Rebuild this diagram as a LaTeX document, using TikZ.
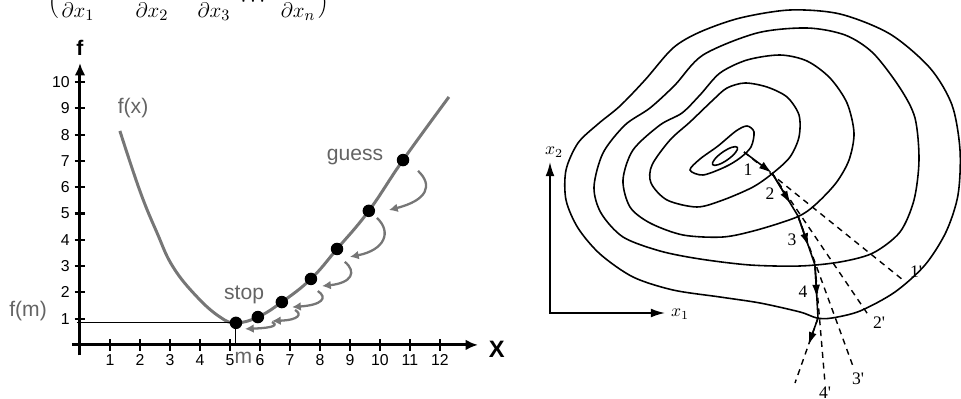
\documentclass[tikz,border=0pt]{standalone}
\usepackage{fontspec}
\newfontfamily\arialfont{Liberation Sans}
\newfontfamily\timesfont{Liberation Serif}
\usetikzlibrary{arrows.meta,calc}

\definecolor{curvegray}{RGB}{118,118,118}
\definecolor{labelgray}{RGB}{100,100,100}

\tikzset{
  gdot/.style={circle,fill=black,inner sep=0pt,minimum size=0.25cm},
  hook/.style={curvegray,line width=1.3pt,-{Latex[length=5pt,width=5pt]}},
  ticklab/.style={font=\arialfont\fontsize{9}{10}\selectfont,inner sep=0pt},
  graylab/.style={labelgray,font=\arialfont\fontsize{12}{14}\selectfont,inner sep=0pt},
  contour/.style={line width=0.9pt},
  search/.style={line width=0.8pt,dash pattern=on 3.4pt off 2.8pt},
  descent/.style={line width=0.9pt,-{Latex[length=7.5pt,width=4.5pt]}},
  steplab/.style={font=\timesfont\fontsize{10}{12}\selectfont,inner sep=0pt},
}

\begin{document}
\begin{tikzpicture}[x=0.02cm,y=-0.02cm]
\useasboundingbox (0,0) rectangle (961,399);
\clip (0,0) rectangle (961,399);

% gradient line, cut at the top
\begin{scope}[font=\fontsize{13}{15}\selectfont]
\node[anchor=south,inner sep=0pt] (lpar) at (54,19) {$\Big($};
\node[anchor=base,inner sep=0pt] (dx1) at (78,17) {$\partial x_1$};
\node[anchor=base,inner sep=0pt] (dx2) at (152,17) {$\partial x_2$};
\node[anchor=base,inner sep=0pt] (dx3) at (214,17) {$\partial x_3$};
\node[anchor=base,inner sep=0pt] (dots) at (253,7) {$\cdots$};
\node[anchor=base,inner sep=0pt] (dxn) at (298,17) {$\partial x_n$};
\node[anchor=south,inner sep=0pt] (rpar) at (324,19) {$\Big)$};
\end{scope}

% left: f(x) with the guesses
\begin{scope}[shift={(1.6cm,-6.9cm)},x=0.6cm,y=0.526cm]

\draw[line width=1.7pt,-{Latex[length=7pt,width=6pt]}] (-0.27,0) -- (13.27,0);
\draw[line width=1.7pt,-{Latex[length=7pt,width=6pt]}] (0,-0.4) -- (0,10.72);

\foreach \i in {1,...,12} {
  \draw[line width=1.2pt] (\i,-0.22) -- (\i,0.22);
  \node[ticklab,anchor=north] (xt\i) at (\i,-0.36) {\i};
}
\foreach \i in {1,...,10} {
  \draw[line width=1.2pt] (-0.18,\i) -- (0.18,\i);
  \node[ticklab,anchor=east] (yt\i) at (-0.33,\i) {\i};
}

\node[font=\arialfont\bfseries\fontsize{12}{14}\selectfont] (flab) at (0,11.3) {f};
\node[font=\arialfont\bfseries\fontsize{13.5}{15}\selectfont] (xlab) at (13.9,-0.15) {X};

\draw[line width=1.7pt,curvegray] plot[smooth,tension=0.7] coordinates
  {(1.33,8.14) (2.0,5.85) (2.57,4.26) (3.1,2.97) (3.9,1.83) (4.67,1.06)
   (5.2,0.84) (5.93,1.06) (6.73,1.63) (7.7,2.51) (8.57,3.65) (9.63,5.1) (10.77,7.03) (12.3,9.43)};

\draw[line width=0.6pt] (-0.1,0.84) -- (5.2,0.84);
\draw[line width=0.6pt] (5.2,0.84) -- (5.2,0);

\node[gdot] (g0) at (5.2,0.84) {};
\node[gdot] (g1) at (5.93,1.06) {};
\node[gdot] (g2) at (6.73,1.63) {};
\node[gdot] (g3) at (7.7,2.51) {};
\node[gdot] (g4) at (8.57,3.65) {};
\node[gdot] (g5) at (9.63,5.1) {};
\node[gdot] (g6) at (10.77,7.03) {};

\draw[hook] (11.27,6.62) .. controls (11.77,6.08) and (11.6,5.51) .. (10.3,5.13);
\draw[hook] (9.9,4.83) .. controls (10.4,4.3) and (10.17,3.61) .. (9.0,3.35);
\draw[hook] (8.83,3.16) .. controls (9.23,2.78) and (9.07,2.36) .. (8.07,2.24);
\draw[hook] (7.93,2.05) .. controls (8.27,1.79) and (8.07,1.52) .. (7.07,1.44);
\draw[hook] (7.17,1.33) .. controls (7.4,1.18) and (7.33,0.95) .. (6.4,0.91);
\draw[hook] (6.4,0.87) .. controls (6.6,0.76) and (6.5,0.65) .. (5.5,0.61);

\node[graylab] (fxlab) at (1.77,9.0) {f(x)};
\node[graylab] (guess) at (9.17,7.15) {guess};
\node[graylab] (stop) at (5.47,1.9) {stop};
\node[graylab] (fmlab) at (-1.73,1.27) {f(m)};
\node[graylab] (mlab) at (5.45,-0.5) {m};

\end{scope}

% right: contours and the search lines
\draw[contour] plot[smooth cycle] coordinates
  {(740,18) (790,10) (840,14) (890,34) (930,68) (952,105) (960,150) (958,195) (946,232)
   (925,265) (895,292) (860,311) (832,318) (817,318) (800,312) (760,303) (720,297) (673,290)
   (633,277) (600,254) (578,228) (566,200) (566,170) (578,143) (598,124) (620,106) (645,80)
   (673,48) (700,32)};
\draw[contour] plot[smooth cycle] coordinates
  {(703,55) (757,33) (807,28) (845,35) (873,53) (900,88) (915,118) (919,160) (914,200)
   (900,232) (873,253) (840,262) (800,266) (750,265) (700,259) (660,251) (623,237) (601,213)
   (594,187) (603,153) (625,125) (650,108) (675,85)};
\draw[contour] plot[smooth cycle] coordinates
  {(700,95) (720,73) (747,60) (780,55) (807,61) (830,78) (847,103) (854,133) (849,160)
   (836,183) (815,205) (797,217) (757,230) (723,237) (683,235) (650,223) (630,207) (623,180)
   (633,150) (660,125) (682,113)};
\draw[contour] plot[smooth cycle] coordinates
  {(713,100) (727,88) (745,83) (767,87) (787,97) (799,115) (799,137) (790,157) (773,173)
   (753,187) (723,200) (697,207) (667,200) (651,183) (652,165) (670,140) (690,122)};
\draw[contour] plot[smooth cycle] coordinates
  {(690,170) (700,159) (718,146) (736,131) (747,126) (754,132) (751,147) (740,158)
   (725,167) (703,175)};
\draw[contour,rotate around={35:(725,156)}] (725,156) ellipse [x radius=15,y radius=4.5];

% axes
\coordinate (o) at (550,313);
\coordinate (x2end) at (550,162);
\coordinate (x1end) at (665,313);
\draw[line width=0.9pt,{Latex[length=8pt,width=5pt]}-{Latex[length=8pt,width=5pt]}]
  (x2end) |- (x1end);
\node[font=\fontsize{10}{12}\selectfont] (x2lab) at (554,152) {$x_2$};
\node[font=\fontsize{10}{12}\selectfont] (x1lab) at (680,314) {$x_1$};

% points of the search
\coordinate (s0) at (744,152);
\coordinate (p1) at (772,173);
\coordinate (p2) at (798,216);
\coordinate (p3) at (815,265);
\coordinate (p4) at (818,318);
\coordinate (e1) at (903,280);
\coordinate (e2) at (869,316);
\coordinate (e3) at (854,369);
\coordinate (e4) at (825,383);
\coordinate (e5) at (795,383);

\draw[search] (s0) -- (e1);
\draw[search] (p1) -- (e2);
\draw[search] (p2) -- (e3);
\draw[search] (p3) -- (e4);
\draw[search] (p4) -- (e5);

\draw[descent] (s0) -- (p1);
\draw[line width=0.9pt] (p1) -- (p2);
\draw[descent] (p1) -- ($(p1)!0.72!(p2)$);
\draw[line width=0.9pt] (p2) -- (p3);
\draw[descent] (p2) -- ($(p2)!0.62!(p3)$);
\draw[line width=0.9pt] (p3) -- (p4);
\draw[descent] (p3) -- ($(p3)!0.62!(p4)$);
\draw[descent] (p4) -- ($(p4)!0.42!(e5)$);

\node[steplab] (n1) at (748,170) {1};
\node[steplab] (n2) at (770,194) {2};
\node[steplab] (n3) at (792,240) {3};
\node[steplab] (n4) at (803,292) {4};
\node[steplab] (n1p) at (916,272) {1'};
\node[steplab] (n2p) at (879,323) {2'};
\node[steplab] (n3p) at (858,379) {3'};
\node[steplab] (n4p) at (825,393) {4'};

\end{tikzpicture}
\end{document}
